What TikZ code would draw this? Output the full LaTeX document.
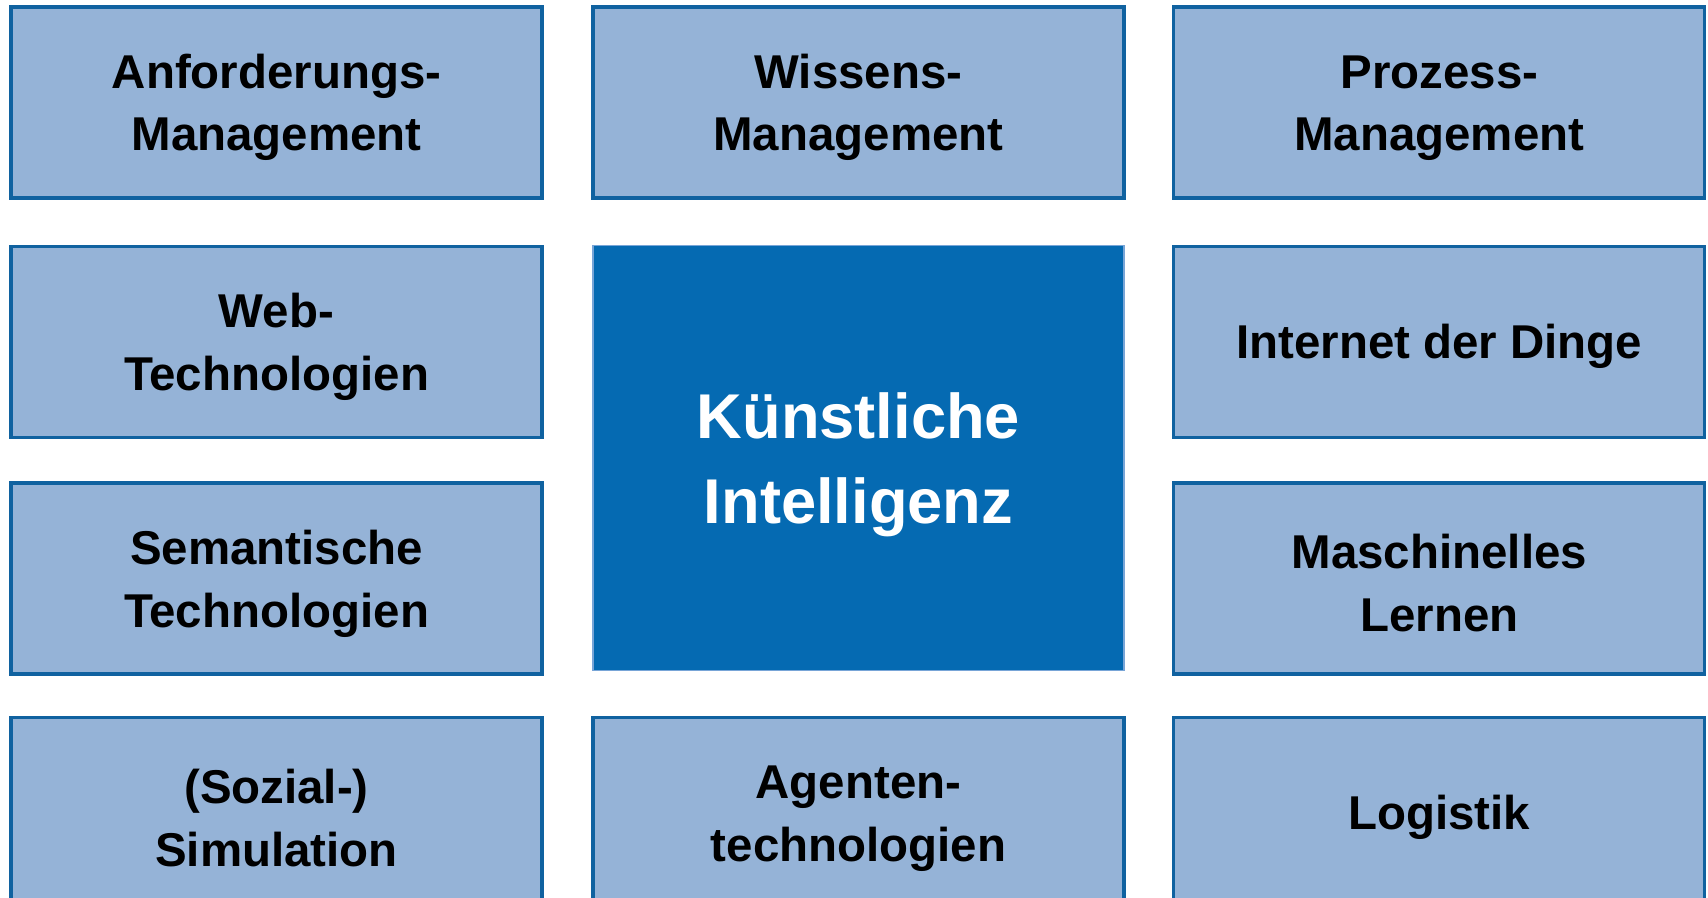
\documentclass[tikz,border=0pt]{standalone}
\usepackage{fontspec}
\setmainfont{Liberation Sans}
\usepackage{tikz}
\usetikzlibrary{positioning}
\definecolor{boxfill}{RGB}{149,179,215}
\definecolor{boxline}{RGB}{16,98,160}
\definecolor{kifill}{RGB}{5,106,178}
\definecolor{kiline}{RGB}{120,165,215}
\newcommand{\topstrut}{\rule{0pt}{0.93em}}
\tikzstyle{topic} = [draw=boxline, fill=boxfill, line width=0.9pt, rectangle, minimum width=5.31cm, minimum height=1.91cm, align=center, font=\fontsize{13.5}{17.9}\selectfont\bfseries]
\tikzstyle{core} = [draw=kiline, fill=kifill, line width=0.4pt, rectangle, minimum width=5.31cm, minimum height=4.25cm, align=center, text=white, font=\fontsize{18}{24.2}\selectfont\bfseries]

\begin{document}
\begin{tikzpicture}[node distance=0.45cm]
    \clip (0,0) rectangle (17.08,8.97);
    \useasboundingbox (0,0) rectangle (17.08,8.97);
    \fill [white] (0,0) rectangle (17.08,8.97);

    % first row
    \node [topic] (anf) at (2.765,7.945) {\topstrut Anforderungs-\\Management};
    \node [topic, right=0.478cm of anf] (wis) {\topstrut Wissens-\\Management};
    \node [topic, right=0.467cm of wis] (pro) {\topstrut Prozess-\\Management};

    % left column
    \node [topic, below=0.453cm of anf] (web) {\topstrut Web-\\Technologien};
    \node [topic, below=0.424cm of web] (sem) {\topstrut Semantische\\Technologien};
    \node [topic, below=0.401cm of sem] (sim) {\topstrut (Sozial-)\\Simulation};

    % right column
    \node [topic, below=0.453cm of pro] (iot) {\topstrut Internet der Dinge};
    \node [topic, below=0.424cm of iot] (ml) {\topstrut Maschinelles\\Lernen};
    \node [topic, below=0.401cm of ml] (log) {\topstrut Logistik};

    % the core in the middle
    \node [core, below=0.453cm of wis] (ki) {\topstrut Künstliche\\Intelligenz};
    \node [topic, right=0.478cm of sim] (agt) {\topstrut Agenten-\\technologien};
\end{tikzpicture}
\end{document}
